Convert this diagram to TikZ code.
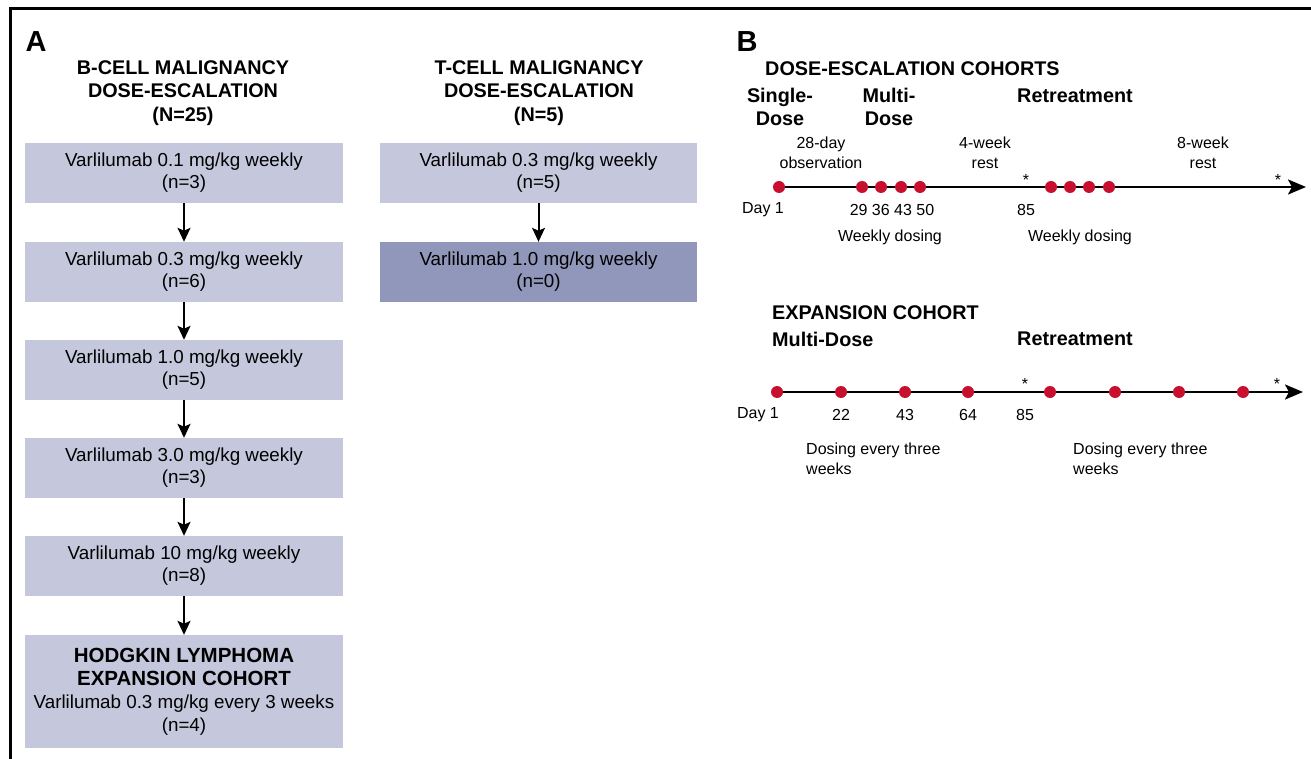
\documentclass[tikz,border=0pt]{standalone}
\usepackage{fontspec}
\setmainfont{Liberation Sans}
\usetikzlibrary{arrows.meta}

\definecolor{boxlight}{RGB}{197,200,220}
\definecolor{boxdark}{RGB}{144,151,187}
\definecolor{dosered}{RGB}{200,16,46}

\begin{document}
\begin{tikzpicture}[x=1pt,y=-1pt]
\tikzstyle{cohort} = [fill=boxlight, minimum width=318pt, minimum height=60pt, inner sep=0pt, align=center, font=\fontsize{18.8}{22}\selectfont]
\tikzstyle{flow} = [-{Stealth[length=14pt,width=13pt,inset=3pt]}, line width=2pt]
\tikzstyle{heading} = [font=\fontsize{19.8}{23.5}\selectfont\bfseries, align=center, inner sep=0pt]
\tikzstyle{panel} = [font=\fontsize{29}{30}\selectfont\bfseries, inner sep=0pt]
\tikzstyle{txt} = [font=\fontsize{16}{20}\selectfont, align=center, inner sep=0pt]
\tikzstyle{dose} = [circle, fill=dosered, inner sep=0pt, minimum size=12pt]
\tikzstyle{timeline} = [-{Stealth[length=18pt,width=15pt,inset=4pt]}, line width=2.5pt]

\useasboundingbox (0,0) rectangle (1311,759);
\draw[line width=3pt] (10,759) -- (10,9) -- (1311,9);

\node[panel] (panelA) at (36,42) {A};
\node[panel] (panelB) at (747,42) {B};

\node[heading] (bhead) at (183,93) {B-CELL MALIGNANCY\\DOSE-ESCALATION\\(N=25)};
\node[heading] (thead) at (539,93) {T-CELL MALIGNANCY\\DOSE-ESCALATION\\(N=5)};

\node[cohort] (b1) at (184,173) {Varlilumab 0.1 mg/kg weekly\\(n=3)};
\node[cohort] (b2) at (184,272) {Varlilumab 0.3 mg/kg weekly\\(n=6)};
\node[cohort] (b3) at (184,370) {Varlilumab 1.0 mg/kg weekly\\(n=5)};
\node[cohort] (b4) at (184,468) {Varlilumab 3.0 mg/kg weekly\\(n=3)};
\node[cohort] (b5) at (184,566) {Varlilumab 10 mg/kg weekly\\(n=8)};
\node[cohort, minimum height=113pt, font=\fontsize{18.8}{23}\selectfont] (hodgkin) at (184,691.5)
  {\fontsize{20.5}{23}\selectfont\bfseries HODGKIN LYMPHOMA\\\fontsize{20.5}{23}\selectfont\bfseries EXPANSION COHORT\\Varlilumab 0.3 mg/kg every 3 weeks\\(n=4)};

\node[cohort, minimum width=317pt] (t1) at (538.5,173) {Varlilumab 0.3 mg/kg weekly\\(n=5)};
\node[cohort, minimum width=317pt, fill=boxdark] (t2) at (538.5,272) {Varlilumab 1.0 mg/kg weekly\\(n=0)};

\draw[flow] (b1) -- (b2);
\draw[flow] (b2) -- (b3);
\draw[flow] (b3) -- (b4);
\draw[flow] (b4) -- (b5);
\draw[flow] (b5) -- (hodgkin);
\draw[flow] (t1) -- (t2);

\node[heading, anchor=west] (eschead) at (765,69) {DOSE-ESCALATION COHORTS};
\node[heading] (single) at (780,107) {Single-\\Dose};
\node[heading] (multi) at (889,107) {Multi-\\Dose};
\node[heading, anchor=west] (retreat) at (1017,96) {Retreatment};

\node[txt] (obs) at (821,153) {28-day\\observation};
\node[txt] (rest4) at (985,153) {4-week\\rest};
\node[txt] (rest8) at (1203,153) {8-week\\rest};

\coordinate (escStart) at (779,187);
\coordinate (escEnd) at (1306,187);
\draw[timeline] (escStart) -- (escEnd);
\node[dose] (e1) at (779,187) {};
\node[dose] (e2) at (862,187) {};
\node[dose] (e3) at (881,187) {};
\node[dose] (e4) at (901,187) {};
\node[dose] (e5) at (920,187) {};
\node[dose] (e6) at (1051,187) {};
\node[dose] (e7) at (1070,187) {};
\node[dose] (e8) at (1089,187) {};
\node[dose] (e9) at (1109,187) {};
\node[txt] (estar1) at (1026,180) {*};
\node[txt] (estar2) at (1278,180) {*};

\node[txt] (eday1) at (763,210) {Day 1};
\node[txt] (eweeks) at (892,210) {29 36 43 50};
\node[txt] (eday85) at (1026,210) {85};
\node[txt] (eweekly1) at (890,237) {Weekly dosing};
\node[txt] (eweekly2) at (1080,237) {Weekly dosing};

\node[heading, anchor=west] (exphead) at (772,313) {EXPANSION COHORT};
\node[heading, anchor=west] (expmulti) at (772,339) {Multi-Dose};
\node[heading, anchor=west] (expretreat) at (1017,339) {Retreatment};

\coordinate (expStart) at (777,392);
\coordinate (expEnd) at (1303,392);
\draw[timeline] (expStart) -- (expEnd);
\node[dose] (x1) at (777,392) {};
\node[dose] (x2) at (841,392) {};
\node[dose] (x3) at (905,392) {};
\node[dose] (x4) at (968,392) {};
\node[dose] (x5) at (1050,392) {};
\node[dose] (x6) at (1115,392) {};
\node[dose] (x7) at (1179,392) {};
\node[dose] (x8) at (1243,392) {};
\node[txt] (xstar1) at (1025,384) {*};
\node[txt] (xstar2) at (1277,384) {*};

\node[txt] (xday1) at (758,415) {Day 1};
\node[txt] (xday22) at (841,415) {22};
\node[txt] (xday43) at (905,415) {43};
\node[txt] (xday64) at (968,415) {64};
\node[txt] (xday85) at (1025,415) {85};
\node[txt, anchor=west, align=left] (xdosing1) at (806,459) {Dosing every three\\weeks};
\node[txt, anchor=west, align=left] (xdosing2) at (1073,459) {Dosing every three\\weeks};

\end{tikzpicture}
\end{document}
